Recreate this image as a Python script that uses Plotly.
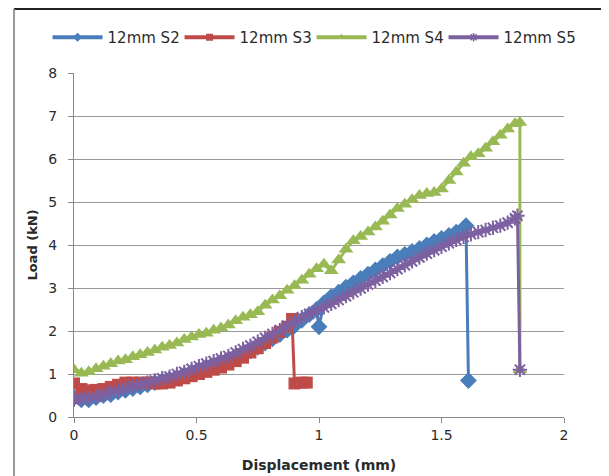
import plotly.graph_objects as go

# ---- data ----
s2_x = [0.00,0.03,0.06,0.09,0.12,0.15,0.18,0.21,0.24,0.27,0.30,0.33,0.36,0.39,0.42,0.45,0.48,0.51,0.54,0.57,
        0.60,0.63,0.66,0.69,0.72,0.75,0.78,0.81,0.84,0.87,0.90,0.93,0.96,0.99,1.00,1.02,1.05,1.08,1.11,1.14,
        1.17,1.20,1.23,1.26,1.29,1.32,1.35,1.38,1.41,1.44,1.47,1.50,1.53,1.56,1.59,1.60,1.61]
s2_y = [0.45,0.40,0.40,0.45,0.50,0.52,0.58,0.62,0.66,0.70,0.75,0.80,0.84,0.88,0.92,0.98,1.04,1.10,1.15,1.20,
        1.28,1.33,1.40,1.46,1.54,1.62,1.72,1.82,1.92,2.02,2.12,2.25,2.38,2.50,2.10,2.65,2.80,2.90,3.02,3.12,
        3.22,3.32,3.42,3.52,3.62,3.72,3.78,3.85,3.92,4.00,4.08,4.15,4.22,4.30,4.38,4.45,0.85]

s3_x = [0.00,0.03,0.06,0.09,0.12,0.15,0.18,0.21,0.24,0.27,0.30,0.33,0.36,0.39,0.42,0.45,0.48,0.51,0.54,0.57,
        0.60,0.63,0.66,0.69,0.72,0.75,0.78,0.81,0.84,0.87,0.89,0.90,0.93,0.95]
s3_y = [0.78,0.65,0.62,0.63,0.65,0.70,0.75,0.80,0.80,0.80,0.80,0.78,0.78,0.80,0.85,0.90,0.95,1.00,1.05,1.10,
        1.15,1.22,1.30,1.38,1.50,1.60,1.72,1.85,1.98,2.10,2.28,0.78,0.80,0.80]

s4_x = [0.00,0.03,0.06,0.09,0.12,0.15,0.18,0.21,0.24,0.27,0.30,0.33,0.36,0.39,0.42,0.45,0.48,0.51,0.54,0.57,
        0.60,0.63,0.66,0.69,0.72,0.75,0.78,0.81,0.84,0.87,0.90,0.93,0.96,0.99,1.02,1.05,1.08,1.11,1.14,1.17,
        1.20,1.23,1.26,1.29,1.32,1.35,1.38,1.41,1.44,1.47,1.50,1.53,1.56,1.59,1.62,1.65,1.68,1.71,1.74,1.77,
        1.80,1.82,1.82]
s4_y = [1.10,1.02,1.05,1.12,1.18,1.24,1.30,1.33,1.40,1.45,1.50,1.56,1.62,1.66,1.72,1.80,1.86,1.92,1.95,2.02,
        2.07,2.14,2.24,2.32,2.38,2.45,2.60,2.72,2.82,2.95,3.05,3.18,3.32,3.45,3.55,3.40,3.65,3.90,4.10,4.20,
        4.30,4.42,4.55,4.70,4.85,4.95,5.05,5.15,5.20,5.22,5.30,5.50,5.70,5.90,6.05,6.12,6.25,6.40,6.55,6.70,
        6.82,6.85,1.10]

s5_x = [0.00,0.03,0.06,0.09,0.12,0.15,0.18,0.21,0.24,0.27,0.30,0.33,0.36,0.39,0.42,0.45,0.48,0.51,0.54,0.57,
        0.60,0.63,0.66,0.69,0.72,0.75,0.78,0.81,0.84,0.87,0.90,0.93,0.96,0.99,1.02,1.05,1.08,1.11,1.14,1.17,
        1.20,1.23,1.26,1.29,1.32,1.35,1.38,1.41,1.44,1.47,1.50,1.53,1.56,1.59,1.62,1.65,1.68,1.71,1.74,1.77,
        1.80,1.81,1.82]
s5_y = [0.40,0.42,0.45,0.48,0.52,0.58,0.62,0.67,0.72,0.76,0.80,0.85,0.90,0.94,1.00,1.05,1.12,1.18,1.24,1.30,
        1.36,1.42,1.50,1.58,1.66,1.75,1.84,1.93,2.02,2.12,2.22,2.32,2.40,2.47,2.55,2.63,2.72,2.81,2.90,2.99,
        3.08,3.17,3.26,3.35,3.44,3.53,3.62,3.71,3.80,3.88,3.96,4.04,4.12,4.19,4.25,4.30,4.35,4.40,4.45,4.52,
        4.62,4.68,1.10]

names = ["12mm S2", "12mm S3", "12mm S4", "12mm S5"]
colors = ["#4A7EBB", "#BE4B48", "#98B954", "#7D60A0"]
x_ticks = [0, 0.5, 1, 1.5, 2]
x_tick_text = ["0", "0.5", "1", "1.5", "2"]
y_ticks = [0, 1, 2, 3, 4, 5, 6, 7, 8]

FONT = "DejaVu Sans, sans-serif"
TXT = "#2a2a2a"

fig = go.Figure()
series = [(s2_x, s2_y, "diamond", 13, 0), (s3_x, s3_y, "square", 12, 0),
          (s4_x, s4_y, "triangle-up", 13, 0), (s5_x, s5_y, "asterisk-open", 12, 2)]
for (xs, ys, sym, sz, lw), name, c in zip(series, names, colors):
    fig.add_trace(go.Scatter(
        x=xs, y=ys, name=name, mode="lines+markers", showlegend=False, legendgroup=name,
        line=dict(color=c, width=3),
        marker=dict(symbol=sym, size=sz, color=c, line=dict(color=c, width=lw)),
    ))
# legend entries (small markers, like the reference legend)
for (xs, ys, sym, sz, lw), name, c in zip(series, names, colors):
    fig.add_trace(go.Scatter(
        x=[None], y=[None], name=name, mode="lines+markers", showlegend=True, legendgroup=name,
        line=dict(color=c, width=4),
        marker=dict(symbol=sym, size=7, color=c, line=dict(color=c, width=min(lw, 1.5))),
    ))

fig.update_layout(
    width=609, height=476,
    margin=dict(l=66, r=53, t=65, b=67),
    paper_bgcolor="white", plot_bgcolor="white",
    font=dict(family=FONT, size=14, color=TXT),
    showlegend=True,
    legend=dict(orientation="h", x=-0.054, y=1.103, xanchor="left", yanchor="middle",
                font=dict(size=15, color=TXT), entrywidth=67, entrywidthmode="pixels",
                bgcolor="rgba(0,0,0,0)", itemwidth=50),
    xaxis=dict(range=[0, 2], tickvals=x_ticks, ticktext=x_tick_text,
               showgrid=False, zeroline=False, showline=True, linecolor="#888888", linewidth=1,
               ticks="outside", ticklen=5, tickcolor="#888888",
               title=dict(text="<b>Displacement (mm)</b>", font=dict(size=14, color=TXT), standoff=18),
               tickfont=dict(size=14, color=TXT)),
    yaxis=dict(range=[0, 8], tickvals=y_ticks, showgrid=True, gridcolor="#999999", gridwidth=1,
               zeroline=False, showline=True, linecolor="#888888", linewidth=1,
               ticks="outside", ticklen=5, tickcolor="#888888", ticklabelstandoff=8,
               title=dict(text="<b>Load (kN)</b>", font=dict(size=13, color=TXT), standoff=7),
               tickfont=dict(size=14, color=TXT)),
    shapes=[
        dict(type="line", xref="paper", yref="paper", x0=-0.1224, x1=1.2, y0=1.186, y1=1.186,
             line=dict(color="#222222", width=2)),
        dict(type="line", xref="paper", yref="paper", x0=-0.1224, x1=-0.1224, y0=1.186, y1=-0.25,
             line=dict(color="#999999", width=2)),
    ],
)

fig.write_html("out.html")
